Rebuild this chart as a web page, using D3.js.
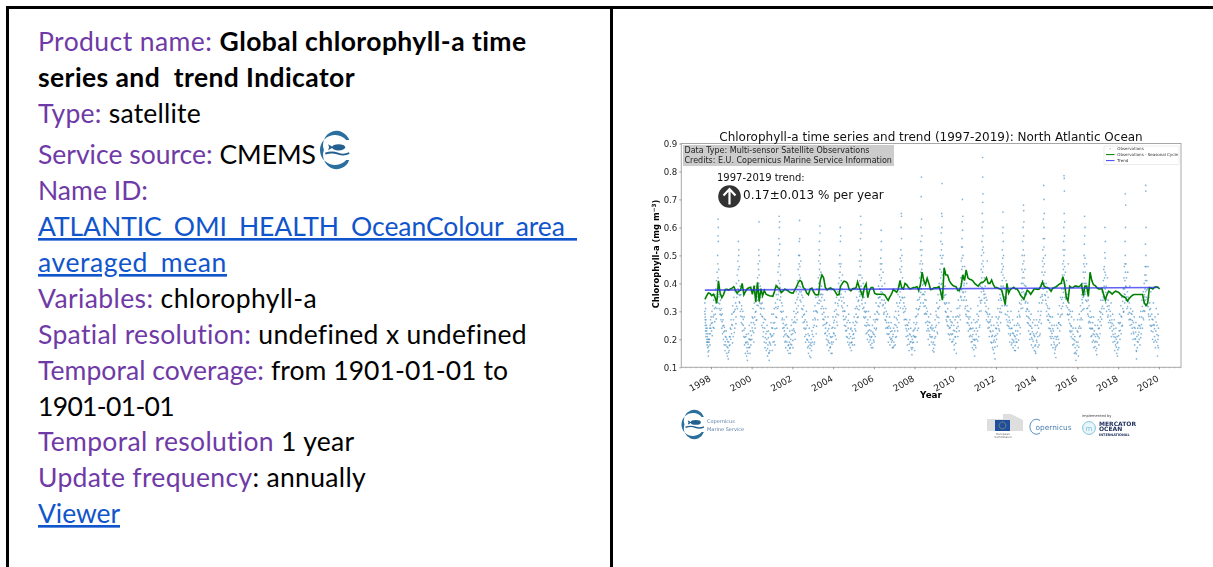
<!DOCTYPE html>
<html>
<head>
<meta charset="utf-8">
<script src="https://cdn.jsdelivr.net/npm/d3@7"></script>
<style>
  html, body { margin: 0; padding: 0; background: #fff; overflow: hidden; }
  svg { display: block; }
  .chart { filter: blur(0.3px); }
  .chart text { font-family: "DejaVu Sans", sans-serif; }
  .panel text { font-family: Lato, sans-serif; font-size: 26.5px; }
</style>
</head>
<body>
<div id="visualization"></div>
<script>
// Left panel text, one entry per line: [text, kind]
const panelLines = [
  [["Product name: ", "label"], ["Global chlorophyll-a time", "bold"]],
  [["series and  trend Indicator", "bold"]],
  [["Type: ", "label"], ["satellite", "plain"]],
  [["Service source: ", "label"], ["CMEMS", "plain"]],
  [["Name ID:", "label"]],
  [["ATLANTIC_OMI_HEALTH_OceanColour_area_", "link"]],
  [["averaged_mean", "link"]],
  [["Variables: ", "label"], ["chlorophyll-a", "plain"]],
  [["Spatial resolution: ", "label"], ["undefined x undefined", "plain"]],
  [["Temporal coverage: ", "label"], ["from 1901-01-01 to", "plain"]],
  [["1901-01-01", "plain"]],
  [["Temporal resolution ", "label"], ["1 year", "plain"]],
  [["Update frequency", "label"], [": annually", "plain"]],
  [["Viewer", "link"]]
];
const panelBaselines = [51, 87, 123, 164, 200, 236, 272, 308, 344, 380, 416, 451, 487, 523];
const panelLineEnds = [527, 355, 201, 316, 148, 577, 227, 317, 527, 508, 174, 355, 366, 120];

const yTicks = [0.1, 0.2, 0.3, 0.4, 0.5, 0.6, 0.7, 0.8, 0.9];

const trendYears = [1997.7, 2019.95];
const trendValues = [0.376, 0.385];

// Observations - Seasonal Cycle, monthly from Sep 1997
const anomaly = [
  .343,.355,.366,.364,.356,.361,.350,.329,.409,.365,.349,.360,.378,.379,.376,.380,.383,.388,.376,.365,
  .372,.376,.400,.359,.372,.381,.384,.386,.361,.392,.333,.404,.335,.381,.356,.375,.361,.358,.356,.355,
  .354,.372,.392,.385,.381,.367,.372,.379,.377,.373,.368,.366,.365,.378,.387,.403,.411,.406,.385,.380,
  .365,.359,.380,.383,.370,.360,.359,.360,.410,.430,.420,.385,.377,.381,.384,.380,.378,.368,.358,.360,
  .390,.400,.408,.406,.400,.378,.373,.381,.382,.384,.405,.385,.370,.353,.385,.398,.349,.375,.385,.385,
  .365,.361,.361,.361,.361,.361,.359,.348,.339,.352,.362,.378,.373,.368,.380,.410,.385,.380,.400,.395,
  .385,.380,.383,.385,.386,.388,.375,.395,.440,.410,.395,.418,.400,.378,.379,.384,.384,.385,.388,.370,
  .340,.456,.430,.430,.410,.400,.393,.390,.388,.375,.375,.390,.430,.410,.448,.420,.415,.413,.408,.400,
  .395,.390,.398,.404,.404,.410,.420,.400,.400,.412,.395,.385,.385,.382,.380,.375,.350,.324,.400,.365,
  .378,.382,.386,.380,.380,.370,.358,.350,.343,.360,.376,.370,.361,.370,.380,.380,.378,.380,.390,.405,
  .390,.385,.385,.380,.372,.382,.385,.388,.393,.398,.400,.424,.400,.350,.337,.390,.385,.385,.390,.390,
  .388,.390,.397,.356,.390,.390,.353,.440,.410,.395,.392,.385,.380,.380,.382,.360,.341,.360,.372,.368,
  .362,.368,.372,.370,.367,.360,.355,.352,.348,.337,.345,.352,.358,.360,.360,.360,.360,.360,.360,.330,
  .321,.330,.385,.383,.380,.386,.388,.386,.380
];

// Daily observations read per year: [fraction of year, chl]
const obs1997 = [[.70,.33],[.70,.30],[.71,.27],[.71,.29],[.72,.25],[.72,.28],[.73,.23],[.73,.26],[.74,.31],[.75,.24],[.75,.21],[.76,.27],[.77,.22],[.78,.25],[.79,.19],[.79,.23],[.80,.20],[.81,.24],[.81,.18],[.82,.21],[.83,.19],[.84,.17],[.84,.22],[.85,.20],[.86,.155],[.86,.19],[.87,.14],[.88,.175],[.89,.20],[.90,.16],[.91,.19],[.92,.22],[.93,.20],[.94,.24],[.95,.18],[.96,.25],[.97,.22],[.98,.27],[.99,.24]];
const obs1998 = [[.01,.28],[.03,.23],[.05,.30],[.07,.26],[.09,.32],[.11,.28],[.13,.34],[.15,.24],[.17,.31],[.19,.36],[.21,.29],[.23,.38],[.25,.33],[.27,.41],[.29,.31],[.30,.44],[.32,.38],[.33,.50],[.34,.36],[.34,.47],[.35,.63],[.35,.57],[.35,.42],[.36,.60],[.36,.55],[.37,.40],[.37,.33],[.38,.45],[.40,.38],[.41,.31],[.43,.36],[.45,.29],[.47,.34],[.49,.27],[.51,.31],[.53,.24],[.55,.29],[.57,.22],[.59,.27],[.61,.20],[.63,.25],[.65,.18],[.67,.23],[.69,.16],[.71,.21],[.73,.18],[.75,.23],[.77,.15],[.79,.20],[.81,.14],[.83,.17],[.85,.13],[.87,.19],[.89,.16],[.91,.21],[.93,.18],[.95,.24],[.97,.20],[.99,.27]];
const obs1999 = [[.01,.22],[.03,.29],[.05,.25],[.07,.32],[.09,.21],[.11,.27],[.13,.35],[.15,.30],[.17,.24],[.19,.37],[.21,.33],[.23,.28],[.25,.40],[.27,.35],[.29,.43],[.30,.31],[.32,.48],[.33,.38],[.34,.45],[.35,.55],[.36,.50],[.36,.41],[.37,.52],[.38,.36],[.39,.46],[.41,.33],[.43,.39],[.45,.30],[.47,.36],[.49,.26],[.51,.32],[.53,.28],[.55,.23],[.57,.30],[.59,.25],[.61,.21],[.63,.28],[.65,.18],[.67,.24],[.69,.15],[.71,.21],[.73,.19],[.75,.14],[.77,.17],[.79,.125],[.80,.19],[.82,.15],[.84,.22],[.86,.17],[.88,.25],[.90,.20],[.92,.15],[.94,.23],[.96,.18],[.98,.26]];
const obs2000 = [[.01,.20],[.03,.28],[.05,.23],[.07,.31],[.09,.26],[.11,.19],[.13,.33],[.15,.28],[.17,.24],[.19,.35],[.21,.30],[.23,.39],[.25,.27],[.27,.34],[.29,.42],[.30,.37],[.32,.47],[.33,.32],[.34,.45],[.35,.52],[.35,.40],[.36,.62],[.36,.50],[.37,.43],[.37,.36],[.39,.48],[.40,.33],[.42,.39],[.44,.29],[.46,.35],[.48,.31],[.50,.25],[.52,.33],[.54,.28],[.56,.21],[.58,.26],[.60,.31],[.62,.19],[.64,.24],[.66,.17],[.68,.27],[.70,.22],[.72,.16],[.74,.20],[.76,.25],[.78,.14],[.80,.18],[.82,.23],[.84,.15],[.86,.125],[.87,.19],[.89,.16],[.91,.22],[.93,.18],[.95,.26],[.97,.21],[.99,.29]];
const obs2001 = [[.01,.16],[.03,.24],[.05,.19],[.07,.29],[.09,.22],[.11,.31],[.13,.26],[.15,.18],[.17,.33],[.19,.28],[.21,.36],[.23,.24],[.25,.39],[.27,.31],[.29,.44],[.30,.36],[.31,.50],[.32,.41],[.33,.56],[.34,.46],[.34,.37],[.35,.64],[.35,.52],[.36,.60],[.36,.47],[.37,.62],[.37,.40],[.38,.54],[.39,.34],[.41,.43],[.43,.30],[.45,.37],[.47,.33],[.49,.27],[.51,.32],[.53,.24],[.55,.30],[.57,.21],[.59,.27],[.61,.23],[.63,.19],[.65,.25],[.67,.17],[.69,.22],[.71,.28],[.73,.19],[.75,.24],[.77,.16],[.79,.21],[.81,.18],[.83,.15],[.85,.19],[.87,.23],[.89,.17],[.90,.15],[.92,.20],[.94,.25],[.96,.18],[.98,.27]];
const obs2002 = [[.01,.22],[.03,.17],[.05,.26],[.07,.30],[.09,.23],[.11,.28],[.13,.20],[.15,.33],[.17,.26],[.19,.37],[.21,.31],[.23,.27],[.25,.41],[.27,.35],[.28,.45],[.29,.32],[.31,.50],[.32,.39],[.33,.47],[.34,.55],[.34,.43],[.35,.625],[.35,.50],[.36,.56],[.36,.37],[.37,.46],[.38,.34],[.39,.42],[.41,.48],[.43,.37],[.45,.31],[.47,.40],[.49,.28],[.51,.35],[.53,.26],[.55,.32],[.57,.24],[.59,.29],[.61,.21],[.63,.27],[.65,.19],[.67,.24],[.69,.30],[.71,.20],[.73,.25],[.75,.17],[.77,.22],[.79,.15],[.81,.19],[.83,.24],[.85,.14],[.87,.18],[.90,.135],[.92,.20],[.94,.16],[.96,.23],[.98,.19]];
const obs2003 = [[.01,.27],[.03,.21],[.05,.30],[.07,.25],[.09,.19],[.11,.32],[.13,.27],[.15,.35],[.17,.22],[.19,.30],[.21,.38],[.23,.33],[.25,.27],[.27,.42],[.28,.36],[.29,.48],[.30,.40],[.31,.52],[.32,.34],[.33,.45],[.33,.55],[.34,.50],[.34,.38],[.35,.605],[.35,.43],[.36,.58],[.37,.47],[.38,.36],[.40,.44],[.41,.31],[.43,.39],[.45,.35],[.47,.29],[.49,.36],[.51,.25],[.53,.31],[.55,.27],[.57,.34],[.59,.22],[.61,.28],[.63,.24],[.65,.31],[.67,.20],[.69,.26],[.71,.18],[.73,.23],[.75,.28],[.77,.19],[.79,.16],[.81,.22],[.83,.25],[.85,.17],[.87,.21],[.90,.15],[.92,.19],[.94,.24],[.95,.15],[.97,.21],[.99,.28]];
const obs2004 = [[.01,.19],[.03,.26],[.05,.22],[.07,.30],[.09,.24],[.11,.33],[.13,.28],[.15,.20],[.17,.35],[.19,.29],[.21,.25],[.23,.37],[.25,.32],[.27,.40],[.29,.34],[.30,.47],[.31,.42],[.32,.36],[.33,.50],[.34,.44],[.35,.60],[.35,.39],[.36,.55],[.36,.46],[.37,.57],[.38,.35],[.39,.47],[.40,.41],[.42,.32],[.44,.38],[.46,.43],[.48,.30],[.50,.35],[.52,.27],[.54,.33],[.56,.25],[.58,.30],[.60,.37],[.62,.23],[.64,.28],[.66,.21],[.68,.26],[.70,.32],[.72,.19],[.74,.24],[.76,.29],[.78,.18],[.80,.22],[.82,.26],[.84,.17],[.86,.21],[.88,.24],[.90,.16],[.92,.19],[.94,.23],[.96,.18],[.98,.26]];
const obs2005 = [[.01,.22],[.03,.28],[.05,.18],[.07,.25],[.09,.31],[.11,.23],[.13,.29],[.15,.35],[.17,.26],[.19,.31],[.21,.38],[.23,.28],[.25,.34],[.27,.43],[.28,.37],[.29,.48],[.30,.32],[.31,.41],[.32,.52],[.33,.46],[.33,.36],[.34,.56],[.35,.64],[.35,.43],[.36,.50],[.36,.61],[.37,.39],[.37,.58],[.38,.48],[.40,.34],[.42,.42],[.44,.37],[.46,.31],[.48,.40],[.50,.28],[.52,.35],[.54,.30],[.56,.25],[.58,.33],[.60,.28],[.62,.22],[.64,.30],[.66,.26],[.68,.20],[.70,.27],[.72,.23],[.74,.30],[.76,.19],[.78,.25],[.80,.21],[.82,.28],[.84,.18],[.86,.23],[.88,.17],[.90,.21],[.93,.25],[.95,.17],[.97,.22],[.99,.27]];
const obs2006 = [[.01,.19],[.03,.24],[.05,.29],[.07,.21],[.09,.27],[.11,.33],[.13,.24],[.15,.30],[.17,.36],[.19,.27],[.21,.32],[.23,.39],[.25,.29],[.27,.35],[.28,.43],[.30,.38],[.31,.33],[.32,.47],[.33,.41],[.34,.49],[.35,.37],[.35,.45],[.36,.59],[.36,.52],[.37,.42],[.37,.55],[.38,.36],[.39,.47],[.41,.39],[.43,.32],[.45,.44],[.47,.36],[.49,.29],[.51,.34],[.53,.40],[.55,.27],[.57,.33],[.59,.24],[.61,.30],[.63,.26],[.65,.22],[.67,.29],[.69,.24],[.71,.19],[.73,.26],[.75,.22],[.77,.28],[.79,.18],[.81,.24],[.83,.20],[.85,.26],[.87,.19],[.89,.23],[.91,.17],[.93,.21],[.95,.17],[.97,.24],[.99,.19]];
const obs2007 = [[.01,.28],[.03,.23],[.05,.18],[.07,.30],[.09,.25],[.11,.21],[.13,.33],[.15,.27],[.17,.23],[.19,.36],[.21,.30],[.23,.26],[.25,.39],[.27,.33],[.28,.45],[.29,.37],[.30,.49],[.31,.41],[.32,.34],[.33,.52],[.33,.44],[.34,.60],[.34,.48],[.35,.65],[.35,.38],[.36,.56],[.36,.64],[.37,.46],[.38,.50],[.39,.35],[.41,.42],[.43,.31],[.45,.38],[.47,.33],[.49,.27],[.51,.35],[.53,.30],[.55,.25],[.57,.31],[.59,.21],[.61,.27],[.63,.23],[.65,.18],[.67,.25],[.69,.20],[.71,.26],[.73,.16],[.75,.22],[.77,.27],[.79,.19],[.81,.24],[.83,.17],[.85,.21],[.87,.145],[.89,.20],[.91,.17],[.93,.23],[.95,.19],[.97,.26],[.99,.21]];
const obs2008 = [[.01,.16],[.03,.24],[.05,.28],[.07,.21],[.09,.31],[.11,.26],[.13,.19],[.15,.34],[.17,.29],[.19,.24],[.21,.37],[.23,.31],[.25,.42],[.26,.35],[.27,.47],[.28,.39],[.29,.52],[.30,.33],[.31,.44],[.31,.55],[.32,.48],[.32,.60],[.33,.38],[.33,.71],[.34,.78],[.34,.50],[.35,.63],[.35,.45],[.36,.57],[.36,.41],[.37,.52],[.38,.36],[.39,.47],[.41,.43],[.43,.33],[.45,.40],[.47,.36],[.49,.29],[.51,.37],[.53,.32],[.55,.26],[.57,.34],[.59,.29],[.61,.23],[.63,.30],[.65,.25],[.67,.20],[.69,.28],[.71,.23],[.73,.18],[.75,.26],[.77,.21],[.79,.29],[.81,.24],[.83,.19],[.85,.25],[.87,.21],[.89,.16],[.91,.24],[.93,.19],[.95,.155],[.97,.23],[.99,.18]];
const obs2009 = [[.01,.27],[.03,.21],[.05,.30],[.07,.25],[.09,.33],[.11,.28],[.13,.22],[.15,.36],[.17,.31],[.19,.26],[.21,.40],[.23,.34],[.25,.45],[.26,.38],[.27,.50],[.28,.42],[.29,.55],[.30,.47],[.31,.36],[.31,.58],[.32,.52],[.32,.44],[.33,.65],[.33,.40],[.34,.60],[.34,.49],[.35,.757],[.35,.64],[.36,.54],[.36,.43],[.37,.47],[.38,.38],[.39,.50],[.41,.41],[.43,.35],[.45,.45],[.47,.33],[.49,.39],[.51,.30],[.53,.36],[.55,.27],[.57,.33],[.59,.28],[.61,.25],[.63,.31],[.65,.22],[.67,.28],[.69,.33],[.71,.24],[.73,.20],[.75,.27],[.77,.22],[.79,.30],[.81,.25],[.83,.19],[.85,.26],[.87,.22],[.89,.28],[.91,.20],[.93,.25],[.95,.18],[.97,.23],[.99,.27]];
const obs2010 = [[.01,.21],[.03,.28],[.05,.15],[.07,.24],[.09,.31],[.11,.26],[.13,.21],[.15,.34],[.17,.28],[.19,.23],[.21,.37],[.23,.32],[.25,.27],[.27,.42],[.28,.35],[.29,.48],[.30,.40],[.31,.53],[.32,.45],[.32,.34],[.33,.56],[.33,.49],[.34,.62],[.34,.42],[.35,.70],[.35,.53],[.36,.59],[.36,.46],[.37,.64],[.37,.37],[.38,.50],[.40,.43],[.42,.34],[.44,.40],[.46,.46],[.48,.31],[.50,.37],[.52,.29],[.54,.34],[.56,.40],[.58,.26],[.60,.32],[.62,.28],[.64,.23],[.66,.30],[.68,.25],[.70,.21],[.72,.28],[.74,.24],[.76,.31],[.78,.19],[.80,.26],[.82,.21],[.84,.17],[.86,.24],[.88,.20],[.90,.27],[.92,.18],[.94,.23],[.95,.14],[.97,.20],[.99,.26]];
const obs2011 = [[.01,.17],[.03,.24],[.05,.20],[.07,.29],[.09,.23],[.11,.32],[.13,.27],[.15,.21],[.17,.35],[.19,.30],[.21,.25],[.23,.39],[.25,.33],[.27,.45],[.28,.37],[.29,.50],[.30,.42],[.30,.34],[.31,.55],[.31,.47],[.32,.60],[.32,.40],[.33,.52],[.33,.65],[.34,.85],[.34,.44],[.35,.69],[.35,.57],[.35,.78],[.36,.62],[.36,.72],[.36,.48],[.37,.53],[.37,.38],[.38,.46],[.39,.51],[.41,.36],[.43,.42],[.45,.33],[.47,.39],[.49,.30],[.51,.35],[.53,.27],[.55,.34],[.57,.48],[.59,.29],[.61,.24],[.63,.31],[.65,.26],[.67,.21],[.69,.29],[.71,.23],[.73,.27],[.75,.19],[.77,.25],[.79,.21],[.81,.28],[.83,.17],[.85,.23],[.87,.19],[.89,.25],[.91,.15],[.93,.21],[.95,.13],[.97,.19],[.99,.24]];
const obs2012 = [[.01,.28],[.03,.20],[.05,.26],[.07,.22],[.09,.31],[.11,.25],[.13,.34],[.15,.28],[.17,.23],[.19,.36],[.21,.31],[.23,.26],[.25,.39],[.26,.34],[.27,.44],[.28,.37],[.29,.47],[.30,.32],[.31,.41],[.31,.52],[.32,.45],[.32,.36],[.33,.58],[.33,.49],[.34,.43],[.34,.655],[.35,.60],[.35,.39],[.36,.55],[.36,.46],[.37,.50],[.38,.35],[.40,.42],[.42,.32],[.44,.38],[.46,.29],[.48,.35],[.50,.41],[.52,.27],[.54,.32],[.56,.25],[.58,.30],[.60,.37],[.62,.22],[.64,.28],[.66,.24],[.68,.19],[.70,.26],[.72,.22],[.74,.30],[.76,.18],[.78,.24],[.80,.20],[.82,.27],[.84,.17],[.86,.22],[.88,.19],[.90,.25],[.92,.16],[.94,.21],[.95,.16],[.97,.23],[.99,.19]];
const obs2013 = [[.01,.25],[.03,.19],[.05,.28],[.07,.23],[.09,.17],[.11,.30],[.13,.25],[.15,.33],[.17,.28],[.19,.22],[.21,.36],[.23,.31],[.25,.40],[.26,.34],[.27,.45],[.28,.38],[.29,.50],[.30,.42],[.31,.35],[.31,.55],[.32,.47],[.33,.60],[.33,.40],[.34,.52],[.34,.44],[.35,.68],[.35,.37],[.36,.57],[.36,.66],[.37,.48],[.37,.62],[.38,.42],[.39,.50],[.40,.36],[.42,.45],[.44,.33],[.46,.39],[.48,.30],[.50,.36],[.52,.31],[.54,.26],[.56,.33],[.58,.28],[.60,.23],[.62,.30],[.64,.25],[.66,.20],[.68,.27],[.70,.22],[.72,.29],[.74,.18],[.76,.24],[.78,.20],[.80,.26],[.82,.17],[.84,.22],[.86,.27],[.88,.16],[.90,.21],[.92,.25],[.94,.18],[.95,.15],[.97,.22],[.99,.27]];
const obs2014 = [[.01,.19],[.03,.25],[.05,.21],[.07,.30],[.09,.24],[.11,.18],[.13,.33],[.15,.27],[.17,.22],[.19,.35],[.21,.30],[.23,.39],[.25,.33],[.26,.44],[.27,.36],[.28,.48],[.29,.41],[.30,.34],[.30,.52],[.31,.46],[.32,.56],[.32,.38],[.33,.63],[.33,.49],[.34,.75],[.34,.43],[.35,.60],[.35,.53],[.36,.70],[.36,.40],[.37,.65],[.37,.47],[.38,.56],[.39,.36],[.40,.44],[.42,.50],[.44,.34],[.46,.40],[.48,.30],[.50,.37],[.52,.32],[.54,.27],[.56,.35],[.58,.29],[.60,.24],[.62,.31],[.64,.26],[.66,.21],[.68,.28],[.70,.23],[.72,.18],[.74,.25],[.76,.21],[.78,.28],[.80,.17],[.82,.23],[.84,.19],[.86,.25],[.88,.15],[.90,.21],[.92,.17],[.94,.135],[.96,.20],[.98,.25]];
const obs2015 = [[.01,.18],[.03,.24],[.05,.29],[.07,.20],[.09,.26],[.11,.32],[.13,.23],[.15,.28],[.17,.35],[.19,.25],[.21,.31],[.23,.38],[.25,.29],[.26,.43],[.27,.35],[.28,.47],[.29,.40],[.30,.52],[.31,.33],[.31,.45],[.32,.55],[.32,.48],[.33,.60],[.33,.38],[.34,.785],[.34,.50],[.35,.65],[.35,.43],[.35,.775],[.36,.57],[.36,.73],[.37,.62],[.37,.46],[.38,.52],[.39,.35],[.41,.44],[.43,.38],[.45,.32],[.47,.41],[.49,.35],[.51,.29],[.53,.36],[.55,.47],[.57,.27],[.59,.33],[.61,.29],[.63,.23],[.65,.30],[.67,.25],[.69,.21],[.71,.28],[.73,.23],[.75,.30],[.77,.18],[.79,.24],[.81,.20],[.83,.27],[.85,.15],[.87,.21],[.89,.17],[.91,.24],[.93,.125],[.95,.19],[.97,.16],[.99,.23]];
const obs2016 = [[.01,.27],[.03,.19],[.05,.14],[.07,.24],[.09,.29],[.11,.21],[.13,.27],[.15,.32],[.17,.24],[.19,.30],[.21,.36],[.23,.27],[.25,.33],[.27,.40],[.28,.35],[.29,.44],[.30,.38],[.31,.47],[.32,.31],[.33,.42],[.33,.50],[.34,.36],[.34,.54],[.35,.46],[.35,.64],[.36,.40],[.36,.57],[.37,.49],[.37,.60],[.38,.37],[.39,.44],[.41,.34],[.43,.40],[.45,.47],[.47,.31],[.49,.37],[.51,.29],[.53,.34],[.55,.26],[.57,.32],[.59,.38],[.61,.24],[.63,.30],[.65,.26],[.67,.21],[.69,.28],[.71,.24],[.73,.19],[.75,.26],[.77,.22],[.79,.28],[.81,.17],[.83,.23],[.85,.19],[.87,.25],[.89,.21],[.91,.16],[.93,.22],[.95,.145],[.97,.19],[.99,.25]];
const obs2017 = [[.01,.21],[.03,.27],[.05,.18],[.07,.24],[.09,.30],[.11,.22],[.13,.28],[.15,.34],[.17,.25],[.19,.31],[.21,.37],[.23,.29],[.25,.34],[.27,.41],[.28,.36],[.29,.45],[.30,.31],[.31,.39],[.32,.46],[.33,.42],[.34,.35],[.34,.51],[.35,.44],[.35,.60],[.36,.38],[.36,.49],[.37,.55],[.38,.43],[.39,.33],[.41,.39],[.43,.30],[.45,.36],[.47,.42],[.49,.28],[.51,.34],[.53,.26],[.55,.32],[.57,.37],[.59,.24],[.61,.30],[.63,.26],[.65,.33],[.67,.21],[.69,.27],[.71,.23],[.73,.29],[.75,.19],[.77,.25],[.79,.21],[.81,.27],[.83,.16],[.85,.22],[.87,.18],[.89,.24],[.91,.20],[.93,.15],[.95,.21],[.96,.14],[.98,.19]];
const obs2018 = [[.01,.26],[.03,.17],[.05,.23],[.07,.29],[.09,.20],[.11,.26],[.13,.32],[.15,.22],[.17,.28],[.19,.35],[.21,.25],[.23,.31],[.25,.38],[.27,.30],[.28,.42],[.29,.35],[.30,.46],[.31,.38],[.32,.33],[.33,.47],[.33,.41],[.34,.55],[.34,.36],[.35,.72],[.35,.50],[.36,.60],[.36,.44],[.37,.68],[.37,.39],[.38,.47],[.39,.34],[.41,.42],[.43,.31],[.45,.37],[.47,.44],[.49,.29],[.51,.35],[.53,.27],[.55,.33],[.57,.39],[.59,.25],[.61,.31],[.63,.27],[.65,.22],[.67,.29],[.69,.24],[.71,.30],[.73,.20],[.75,.26],[.77,.22],[.79,.28],[.81,.18],[.83,.24],[.85,.20],[.87,.26],[.89,.16],[.90,.13],[.92,.21],[.94,.17],[.96,.24],[.98,.19]];
const obs2019 = [[.01,.25],[.03,.20],[.05,.28],[.07,.18],[.09,.24],[.11,.30],[.13,.22],[.15,.28],[.17,.34],[.19,.24],[.21,.30],[.23,.37],[.25,.27],[.27,.33],[.28,.40],[.29,.36],[.30,.30],[.31,.43],[.32,.38],[.33,.46],[.33,.34],[.34,.41],[.34,.54],[.35,.75],[.35,.37],[.36,.50],[.36,.73],[.37,.43],[.37,.60],[.38,.46],[.39,.35],[.41,.41],[.43,.32],[.45,.38],[.47,.46],[.49,.29],[.51,.35],[.53,.27],[.55,.33],[.57,.25],[.59,.31],[.61,.37],[.63,.23],[.65,.29],[.67,.25],[.69,.20],[.71,.27],[.73,.33],[.75,.19],[.77,.25],[.79,.21],[.81,.28],[.83,.17],[.85,.23],[.87,.31],[.89,.19],[.91,.25],[.93,.14],[.95,.20],[.96,.29],[.97,.17],[.98,.24]];

// Second pass over the dense lower part of each season
const low1998 = [[.022,.257],[.064,.213],[.108,.243],[.142,.287],[.186,.263],[.224,.314],[.262,.273],[.304,.347],[.388,.352],[.424,.327],[.462,.304],[.504,.286],[.544,.263],[.582,.248],[.622,.226],[.662,.243],[.702,.192],[.742,.207],[.784,.174],[.822,.192],[.862,.153],[.902,.178],[.942,.209],[.982,.236]];
const low1999 = [[.024,.253],[.062,.187],[.104,.296],[.146,.224],[.184,.307],[.226,.256],[.264,.318],[.306,.362],[.392,.334],[.422,.357],[.466,.283],[.506,.308],[.542,.254],[.586,.271],[.624,.233],[.664,.207],[.704,.187],[.744,.218],[.786,.158],[.826,.183],[.866,.201],[.906,.172],[.946,.198],[.986,.214]];
const low2000 = [[.026,.241],[.066,.276],[.102,.224],[.144,.253],[.182,.297],[.222,.268],[.266,.322],[.308,.352],[.386,.377],[.426,.312],[.464,.327],[.502,.283],[.546,.242],[.584,.227],[.626,.273],[.666,.206],[.706,.187],[.746,.228],[.782,.167],[.824,.206],[.864,.153],[.904,.186],[.944,.216],[.984,.241]];
const low2001 = [[.028,.213],[.068,.258],[.106,.192],[.148,.238],[.188,.314],[.228,.278],[.268,.343],[.302,.317],[.392,.386],[.428,.352],[.468,.297],[.508,.276],[.548,.257],[.588,.242],[.628,.216],[.668,.194],[.708,.253],[.748,.213],[.788,.178],[.828,.207],[.868,.168],[.908,.183],[.948,.217],[.988,.232]];
const low2002 = [[.022,.196],[.062,.237],[.102,.263],[.142,.224],[.182,.292],[.222,.342],[.262,.297],[.302,.362],[.394,.387],[.424,.334],[.464,.358],[.504,.307],[.544,.287],[.584,.263],[.624,.236],[.664,.217],[.704,.262],[.744,.198],[.784,.176],[.824,.213],[.864,.168],[.904,.187],[.944,.177],[.984,.218]];
const low2003 = [[.026,.243],[.066,.183],[.106,.276],[.146,.302],[.186,.247],[.226,.296],[.266,.352],[.306,.328],[.396,.337],[.426,.362],[.466,.318],[.506,.272],[.546,.296],[.586,.253],[.626,.223],[.666,.257],[.706,.213],[.746,.196],[.786,.238],[.826,.186],[.866,.173],[.906,.207],[.946,.183],[.986,.243]];
const low2004 = [[.024,.223],[.064,.268],[.104,.213],[.144,.306],[.184,.262],[.224,.328],[.264,.287],[.304,.378],[.394,.362],[.424,.337],[.464,.313],[.504,.283],[.544,.302],[.584,.272],[.624,.247],[.664,.232],[.704,.207],[.744,.268],[.784,.203],[.824,.187],[.864,.236],[.904,.188],[.944,.203],[.984,.217]];
const low2005 = [[.028,.204],[.068,.237],[.108,.264],[.148,.317],[.188,.278],[.228,.336],[.268,.306],[.304,.354],[.398,.368],[.428,.327],[.468,.352],[.508,.314],[.548,.276],[.588,.297],[.628,.248],[.668,.224],[.708,.252],[.748,.216],[.788,.234],[.828,.198],[.868,.207],[.908,.186],[.948,.226],[.988,.197]];
const low2006 = [[.022,.217],[.062,.262],[.102,.234],[.142,.272],[.182,.296],[.222,.348],[.262,.317],[.306,.352],[.394,.341],[.424,.367],[.464,.324],[.504,.296],[.544,.312],[.584,.268],[.624,.281],[.664,.243],[.704,.218],[.744,.247],[.784,.207],[.824,.228],[.864,.203],[.904,.196],[.944,.218],[.984,.176]];
const low2007 = [[.026,.253],[.066,.207],[.106,.276],[.146,.243],[.186,.318],[.226,.286],[.266,.352],[.302,.312],[.396,.382],[.426,.348],[.466,.296],[.506,.318],[.546,.272],[.586,.238],[.626,.252],[.666,.213],[.706,.237],[.746,.183],[.786,.216],[.826,.192],[.866,.164],[.906,.188],[.946,.213],[.986,.234]];
const low2008 = [[.024,.207],[.064,.253],[.104,.283],[.144,.232],[.184,.306],[.224,.343],[.264,.318],[.304,.368],[.396,.394],[.426,.362],[.466,.318],[.506,.342],[.546,.293],[.586,.312],[.626,.264],[.666,.238],[.706,.262],[.746,.217],[.786,.243],[.826,.207],[.866,.234],[.906,.183],[.938,.168],[.984,.204]];
const low2009 = [[.028,.243],[.068,.287],[.108,.226],[.148,.312],[.188,.278],[.228,.317],[.268,.362],[.308,.396],[.394,.368],[.428,.383],[.468,.357],[.508,.326],[.548,.297],[.588,.264],[.628,.282],[.668,.247],[.708,.216],[.748,.242],[.788,.263],[.828,.217],[.868,.193],[.908,.232],[.948,.163],[.988,.208]];
const low2010 = [[.022,.186],[.062,.227],[.102,.283],[.142,.246],[.182,.312],[.222,.287],[.262,.354],[.306,.378],[.396,.367],[.424,.392],[.464,.352],[.504,.318],[.544,.283],[.584,.302],[.624,.258],[.664,.273],[.704,.236],[.744,.214],[.784,.237],[.824,.192],[.864,.217],[.904,.163],[.944,.197],[.984,.178]];
const low2011 = [[.026,.218],[.066,.263],[.106,.194],[.146,.283],[.186,.243],[.226,.338],[.266,.302],[.308,.386],[.396,.372],[.426,.347],[.466,.362],[.506,.318],[.546,.296],[.586,.263],[.626,.281],[.666,.243],[.706,.263],[.746,.227],[.786,.187],[.826,.214],[.866,.163],[.906,.197],[.946,.172],[.986,.214]];
const low2012 = [[.024,.238],[.064,.176],[.104,.273],[.144,.237],[.184,.298],[.224,.347],[.264,.296],[.304,.382],[.394,.384],[.424,.352],[.464,.323],[.504,.347],[.544,.287],[.584,.262],[.624,.247],[.664,.268],[.704,.214],[.744,.238],[.784,.187],[.824,.223],[.864,.196],[.904,.213],[.944,.178],[.984,.202]];
const low2013 = [[.028,.216],[.068,.257],[.108,.198],[.148,.287],[.188,.242],[.228,.326],[.268,.368],[.308,.312],[.398,.393],[.428,.364],[.468,.336],[.508,.283],[.548,.307],[.588,.257],[.628,.276],[.668,.218],[.708,.247],[.748,.206],[.788,.227],[.828,.193],[.868,.214],[.908,.176],[.938,.156],[.988,.197]];
const low2014 = [[.022,.226],[.062,.173],[.102,.262],[.142,.213],[.182,.286],[.222,.257],[.262,.354],[.306,.397],[.394,.382],[.424,.357],[.464,.327],[.504,.283],[.544,.312],[.584,.268],[.624,.283],[.664,.238],[.704,.203],[.744,.221],[.784,.238],[.824,.203],[.864,.182],[.904,.163],[.948,.176],[.984,.208]];
const low2015 = [[.026,.211],[.066,.258],[.106,.187],[.146,.253],[.186,.287],[.226,.343],[.266,.318],[.306,.368],[.396,.389],[.426,.344],[.466,.362],[.506,.313],[.546,.287],[.586,.306],[.626,.257],[.666,.226],[.706,.246],[.746,.203],[.786,.218],[.826,.183],[.866,.196],[.906,.153],[.938,.148],[.986,.178]];
const low2016 = [[.024,.226],[.064,.172],[.104,.247],[.144,.213],[.184,.276],[.224,.342],[.264,.306],[.304,.354],[.394,.362],[.424,.383],[.464,.336],[.504,.312],[.544,.283],[.584,.264],[.624,.278],[.664,.237],[.704,.213],[.744,.238],[.784,.196],[.824,.217],[.864,.174],[.904,.193],[.944,.168],[.984,.216]];
const low2017 = [[.028,.238],[.068,.204],[.108,.263],[.148,.296],[.188,.272],[.228,.318],[.268,.352],[.306,.347],[.396,.368],[.426,.342],[.466,.318],[.506,.287],[.546,.307],[.586,.268],[.626,.283],[.666,.246],[.706,.257],[.746,.218],[.786,.237],[.826,.193],[.866,.207],[.906,.172],[.946,.186],[.986,.163]];
const low2018 = [[.022,.213],[.062,.257],[.102,.232],[.142,.283],[.182,.247],[.222,.336],[.262,.297],[.306,.362],[.394,.387],[.424,.352],[.464,.317],[.504,.336],[.544,.296],[.584,.272],[.624,.293],[.664,.253],[.704,.267],[.744,.226],[.784,.243],[.824,.203],[.864,.226],[.904,.157],[.944,.192],[.984,.216]];
const low2019 = [[.026,.226],[.066,.248],[.106,.206],[.146,.253],[.186,.318],[.226,.276],[.266,.303],[.306,.352],[.396,.376],[.426,.343],[.466,.317],[.506,.282],[.546,.306],[.586,.283],[.626,.247],[.666,.272],[.706,.227],[.746,.253],[.786,.238],[.826,.196],[.866,.262],[.906,.217],[.946,.178],[.976,.213]];

const obsYears = [1997, 1998, 1999, 2000, 2001, 2002, 2003, 2004, 2005, 2006, 2007, 2008, 2009, 2010, 2011, 2012, 2013, 2014, 2015, 2016, 2017, 2018, 2019];
const obsSets = [obs1997, obs1998.concat(low1998), obs1999.concat(low1999), obs2000.concat(low2000), obs2001.concat(low2001), obs2002.concat(low2002), obs2003.concat(low2003), obs2004.concat(low2004), obs2005.concat(low2005), obs2006.concat(low2006), obs2007.concat(low2007), obs2008.concat(low2008), obs2009.concat(low2009), obs2010.concat(low2010), obs2011.concat(low2011), obs2012.concat(low2012), obs2013.concat(low2013), obs2014.concat(low2014), obs2015.concat(low2015), obs2016.concat(low2016), obs2017.concat(low2017), obs2018.concat(low2018), obs2019.concat(low2019)];

const toDate = y => new Date(Date.UTC(Math.floor(y), 0, 1) + (y - Math.floor(y)) * 365.25 * 864e5);

const svg = d3.select("#visualization").append("svg")
    .attr("width", 1213)
    .attr("height", 567);

// Left panel
const panelColors = {label: "#6f3aa6", plain: "#000", bold: "#000", link: "#1155cc"};
const panel = svg.append("g").attr("class", "panel");
panel.selectAll("rect")
  .data([[6, 6, 1207, 3], [6, 6, 3, 561], [610, 6, 3, 561]])
  .join("rect")
    .attr("x", d => d[0]).attr("y", d => d[1])
    .attr("width", d => d[2]).attr("height", d => d[3])
    .attr("fill", "#000");

panelLines.forEach((line, i) => {
  const t = panel.append("text").attr("x", 38).attr("y", panelBaselines[i]).style("white-space", "pre");
  t.selectAll("tspan").data(line).join("tspan")
    .text(d => d[0])
    .attr("fill", d => panelColors[d[1]])
    .attr("font-weight", d => d[1] === "bold" ? 700 : 400)
    .attr("text-decoration", d => d[1] === "link" ? "underline" : null);
  // stretch each line to the width it has in the picture
  const chars = line.map(d => d[0]).join("").length;
  const w = t.node().getComputedTextLength();
  t.attr("letter-spacing", (panelLineEnds[i] - 38 - w) / chars);
});

// Crescent + fish logo used in the panel and under the chart
function marineLogo(sel, cx, cy, r) {
  const g = sel.append("g").attr("transform", `translate(${cx},${cy}) scale(${r / 10})`);
  g.append("path").attr("fill", "#2a6f9e")
    .attr("d", "M7.5,-6.6A10,10 0 1 0 7.5,6.6L9.5,6.6A8.6,9 0 0 1 -7.4,0A8.6,9 0 0 1 9.5,-6.6Z");
  g.append("ellipse").attr("cx", 2.4).attr("cy", -1.8).attr("rx", 4.4).attr("ry", 2.1).attr("fill", "#24608f");
  g.append("path").attr("d", "M-1.2,-1.8L-4.6,-3.8L-3.9,-1.8L-4.6,0.2Z").attr("fill", "#24608f");
  g.append("path").attr("d", "M-6.5,2.4Q-2,0.9 2,2.4T9.5,2").attr("fill", "none").attr("stroke", "#24608f").attr("stroke-width", 1.2);
}
marineLogo(panel, 335, 150, 15);

// Chart
const chart = svg.append("g").attr("class", "chart");
const plot = {left: 681.3, right: 1181, top: 143.5, bottom: 367.3};

const x = d3.scaleUtc()
    .domain([new Date(Date.UTC(1996, 6, 18)), new Date(Date.UTC(2021, 1, 1))])
    .range([plot.left, plot.right]);
const y = d3.scaleLinear().domain([0.1, 0.9]).range([plot.bottom, plot.top]);

// scatter
chart.append("g").selectAll("g")
  .data(obsYears)
  .join("g")
  .selectAll("circle")
  .data((yr, i) => obsSets[i].map(d => [yr + d[0], d[1]]))
  .join("circle")
    .attr("cx", d => x(toDate(d[0])))
    .attr("cy", d => y(d[1]))
    .attr("r", 0.85)
    .attr("fill", "#1f77b4")
    .attr("opacity", 0.55);

// anomaly line
const anomalyDates = anomaly.map((_, i) => new Date(Date.UTC(1997, 8 + i, 15)));
chart.append("path")
    .attr("fill", "none")
    .attr("stroke", "#008000")
    .attr("stroke-width", 1.6)
    .attr("d", d3.line().x((_, i) => x(anomalyDates[i])).y(d => y(d))(anomaly));

// trend
chart.append("path")
    .attr("fill", "none")
    .attr("stroke", "#3030f0")
    .attr("stroke-width", 1.6)
    .attr("opacity", 0.75)
    .attr("d", d3.line().x((_, i) => x(toDate(trendYears[i]))).y(d => y(d))(trendValues));

// frame
chart.append("rect")
    .attr("x", plot.left).attr("y", plot.top)
    .attr("width", plot.right - plot.left).attr("height", plot.bottom - plot.top)
    .attr("fill", "none").attr("stroke", "#a8a8a8").attr("stroke-width", 1);

// axes
const xMinor = chart.append("g")
    .attr("transform", `translate(0,${plot.bottom})`)
    .call(d3.axisBottom(x).ticks(d3.utcMonth.every(3)).tickSize(1).tickFormat(""));
xMinor.select(".domain").remove();
xMinor.selectAll("line").attr("stroke", "#888").attr("stroke-width", 0.5);

const xAxis = chart.append("g")
    .attr("transform", `translate(0,${plot.bottom})`)
    .call(d3.axisBottom(x).ticks(d3.utcYear.every(2)).tickSize(2).tickFormat(d3.utcFormat("%Y")));
xAxis.select(".domain").remove();
xAxis.selectAll("line").attr("stroke", "#666").attr("stroke-width", 0.6);
xAxis.selectAll("text")
    .attr("font-size", 9)
    .attr("fill", "#222")
    .attr("text-anchor", "end")
    .attr("dy", 0)
    .attr("transform", "translate(0,13) rotate(-30)")
    .attr("y", 0).attr("x", 0);

const yAxis = chart.append("g")
    .attr("transform", `translate(${plot.left},0)`)
    .call(d3.axisLeft(y).tickValues(yTicks).tickSize(2).tickPadding(2).tickFormat(d3.format(".1f")));
yAxis.select(".domain").remove();
yAxis.selectAll("line").attr("stroke", "#666").attr("stroke-width", 0.6);
yAxis.selectAll("text").attr("font-size", 8.6).attr("fill", "#222");

// titles
chart.append("text")
    .attr("x", 931).attr("y", 141)
    .attr("text-anchor", "middle")
    .attr("font-size", 12).attr("fill", "#111")
    .text("Chlorophyll-a time series and trend (1997-2019): North Atlantic Ocean");

chart.append("text")
    .attr("x", 931).attr("y", 398)
    .attr("text-anchor", "middle")
    .attr("font-size", 8.8).attr("font-weight", "bold").attr("fill", "#000")
    .text("Year");

const yLabel = chart.append("text")
    .attr("transform", "translate(659,254) rotate(-90)")
    .attr("text-anchor", "middle")
    .attr("font-size", 8.4).attr("font-weight", "bold").attr("fill", "#000");
yLabel.append("tspan").text("Chlorophyll-a (mg m");
yLabel.append("tspan").attr("dy", -3).attr("font-size", 5.8).text("−3");
yLabel.append("tspan").attr("dy", 3).text(")");

// credit box
chart.append("rect").attr("x", 683).attr("y", 145).attr("width", 211).attr("height", 21).attr("fill", "#cccccc");
chart.append("text").attr("x", 684.5).attr("y", 153).attr("font-size", 8).attr("fill", "#222")
    .text("Data Type: Multi-sensor Satellite Observations");
chart.append("text").attr("x", 684.5).attr("y", 162.5).attr("font-size", 8).attr("fill", "#222")
    .text("Credits: E.U. Copernicus Marine Service Information");

// trend note
chart.append("text").attr("x", 717).attr("y", 181).attr("font-size", 10).attr("fill", "#111").text("1997-2019 trend:");
chart.append("circle").attr("cx", 729.5).attr("cy", 196.5).attr("r", 11.3).attr("fill", "#333");
chart.append("path")
    .attr("d", "M729.5,204.5V189.5M723.5,195.5L729.5,189L735.5,195.5")
    .attr("fill", "none").attr("stroke", "#fff").attr("stroke-width", 2.2);
chart.append("text").attr("x", 743).attr("y", 199).attr("font-size", 12).attr("fill", "#111").text("0.17±0.013 % per year");

// legend
chart.append("rect")
    .attr("x", 1104).attr("y", 146).attr("width", 75).attr("height", 18.5)
    .attr("fill", "#fff").attr("stroke", "#e2e2e2").attr("stroke-width", 0.6);
chart.append("circle").attr("cx", 1110).attr("cy", 148.8).attr("r", 0.5).attr("fill", "#1f77b4");
chart.append("line").attr("x1", 1106).attr("x2", 1114.5).attr("y1", 154.6).attr("y2", 154.6).attr("stroke", "#008000").attr("stroke-width", 1);
chart.append("line").attr("x1", 1106).attr("x2", 1114.5).attr("y1", 160.6).attr("y2", 160.6).attr("stroke", "#4444f5").attr("stroke-width", 1);
chart.selectAll(".leg")
  .data(["Observations", "Observations - Seasonal Cycle", "Trend"])
  .join("text")
    .attr("class", "leg")
    .attr("x", 1117.3)
    .attr("y", (d, i) => 150.4 + i * 6)
    .attr("font-size", 4).attr("fill", "#333")
    .text(d => d);

// footer logos
marineLogo(chart, 693, 424.5, 11.5);
chart.append("text").attr("x", 707).attr("y", 423).attr("font-size", 5).attr("fill", "#5b7fa8").text("Copernicus");
chart.append("text").attr("x", 707).attr("y", 431).attr("font-size", 5).attr("fill", "#5b7fa8").text("Marine Service");

chart.append("path").attr("d", "M987,419L1003,419L1003,414L1011,414L1023,420L1023,431L987,431Z").attr("fill", "#dedede");
chart.append("rect").attr("x", 995).attr("y", 420).attr("width", 15).attr("height", 11).attr("fill", "#1f4e9c");
chart.append("circle").attr("cx", 1002.5).attr("cy", 425.5).attr("r", 3.4).attr("fill", "none")
    .attr("stroke", "#e6c84a").attr("stroke-width", 0.9).attr("stroke-dasharray", "0.9 1.2");
chart.append("text").attr("x", 1003).attr("y", 434.5).attr("text-anchor", "middle").attr("font-size", 2.8).attr("fill", "#555").text("European");
chart.append("text").attr("x", 1003).attr("y", 437.5).attr("text-anchor", "middle").attr("font-size", 2.8).attr("fill", "#555").text("Commission");

chart.append("path").attr("d", "M1040,420.5A6.5,7.5 0 1 0 1040,433").attr("fill", "none").attr("stroke", "#3f7fb5").attr("stroke-width", 0.9);
chart.append("text").attr("x", 1035.5).attr("y", 429.5).attr("font-size", 7.4).attr("fill", "#4d7fae").text("opernicus");

chart.append("text").attr("x", 1082).attr("y", 417).attr("font-size", 3.6).attr("fill", "#444").text("implemented by");
chart.append("circle").attr("cx", 1089).attr("cy", 428).attr("r", 6.4).attr("fill", "#eaf5fa").attr("stroke", "#7fc3dc").attr("stroke-width", 1);
chart.append("text").attr("x", 1089).attr("y", 430.5).attr("text-anchor", "middle").attr("font-size", 7).attr("fill", "#7fc3dc").text("m");
[["MERCATOR", 425.5, 6], ["OCEAN", 431, 6], ["INTERNATIONAL", 435.5, 3.4]].forEach(d => {
  chart.append("text").attr("x", 1099).attr("y", d[1]).attr("font-size", d[2]).attr("font-weight", "bold").attr("fill", "#1c2c5a").text(d[0]);
});
</script>
</body>
</html>
